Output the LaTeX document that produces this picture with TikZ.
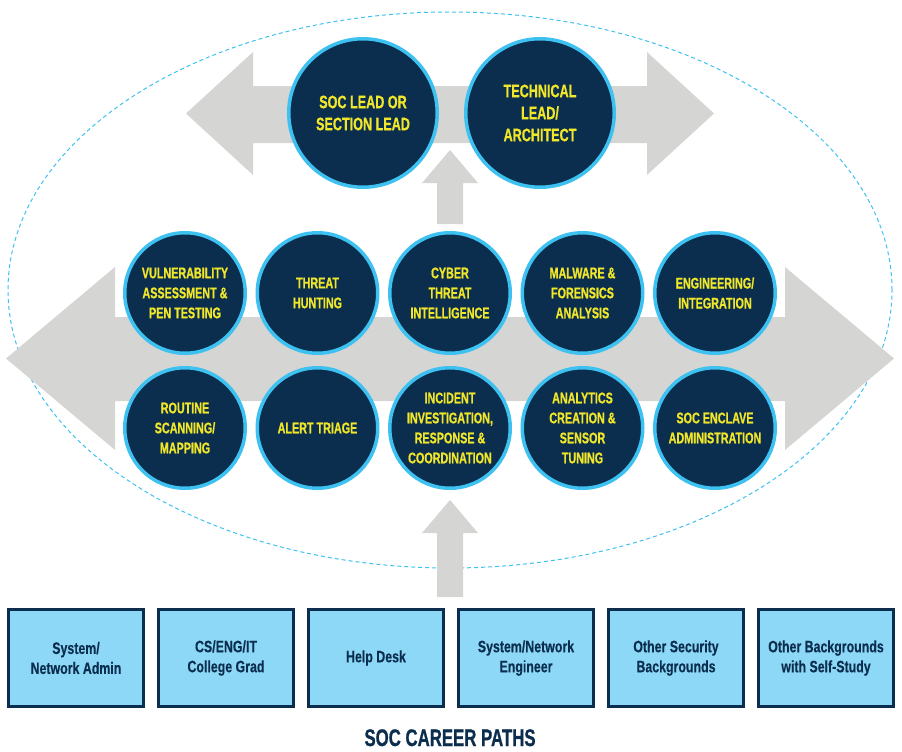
\documentclass[tikz,border=0pt]{standalone}
\usepackage{fontspec}
\setmainfont{Liberation Sans}
\newfontfamily\circfont[FakeStretch=0.7,BoldFeatures={FakeBold=0.8}]{Liberation Sans}
\newfontfamily\boxfont[FakeStretch=0.75,BoldFeatures={FakeBold=0.2}]{Liberation Sans}
\usetikzlibrary{positioning}

\definecolor{socnavy}{HTML}{0B2D4E}
\definecolor{socring}{HTML}{3DC1F0}
\definecolor{socyellow}{HTML}{F0E62A}
\definecolor{socgrey}{HTML}{D5D5D3}
\definecolor{socbox}{HTML}{8DD8F7}

\begin{document}
\begin{tikzpicture}[x=1pt,y=-1pt,
      rolecircle/.style={circle,draw=socring,line width=3.5pt,fill=socnavy,
        text=socyellow,align=center,inner sep=0pt,minimum size=120.5pt,
        font=\circfont\bfseries\fontsize{15.4}{20}\selectfont},
      leadcircle/.style={rolecircle,minimum size=148.5pt,
        font=\circfont\bfseries\fontsize{18}{22}\selectfont},
      pathbox/.style={draw=socnavy,line width=3pt,fill=socbox,align=center,
        minimum width=135pt,minimum height=97pt,text=socnavy,
        font=\boxfont\bfseries\fontsize{16.5}{20}\selectfont},
      node distance=8.5pt]
      \useasboundingbox (0,0) rectangle (902,752);

      % Dashed frame
      \draw[socring,line width=1pt,dash pattern=on 4pt off 3pt]
        (450,290) ellipse [x radius=442pt,y radius=278pt];

      % Grey arrows
      \fill[socgrey] (186,113.5) -- (253,52) -- (253,86) -- (647,86) -- (647,52)
        -- (714,113.5) -- (647,175) -- (647,143) -- (253,143) -- (253,175) -- cycle;
      \fill[socgrey] (437,224) -- (437,183) -- (422,183) -- (450,150)
        -- (478,183) -- (463,183) -- (463,224) -- cycle;
      \fill[socgrey] (6,358.5) -- (115,267) -- (115,317) -- (785,317) -- (785,267)
        -- (894,358.5) -- (785,450) -- (785,401) -- (115,401) -- (115,450) -- cycle;
      \fill[socgrey] (437,597) -- (437,533) -- (422,533) -- (450,500)
        -- (478,533) -- (463,533) -- (463,597) -- cycle;

      % Lead roles
      \node[leadcircle] at (363,113) (soclead) {SOC LEAD OR\\SECTION LEAD};
      \node[leadcircle,right=25pt of soclead] (techlead) {TECHNICAL\\LEAD/\\ARCHITECT};

      % Upper row
      \node[rolecircle] at (185,293) (vuln) {VULNERABILITY\\ASSESSMENT \&\\PEN TESTING};
      \node[rolecircle,right=of vuln]    (hunting) {THREAT\\HUNTING};
      \node[rolecircle,right=of hunting] (cti)     {CYBER\\THREAT\\INTELLIGENCE};
      \node[rolecircle,right=of cti]     (malware) {MALWARE \&\\FORENSICS\\ANALYSIS};
      \node[rolecircle,right=of malware] (eng)     {ENGINEERING/\\INTEGRATION};

      % Lower row
      \node[rolecircle,below=11pt of vuln] (scanning) {ROUTINE\\SCANNING/\\MAPPING};
      \node[rolecircle,right=of scanning]  (triage)    {ALERT TRIAGE};
      \node[rolecircle,right=of triage]    (incident)  {INCIDENT\\INVESTIGATION,\\RESPONSE \&\\COORDINATION};
      \node[rolecircle,right=of incident]  (analytics) {ANALYTICS\\CREATION \&\\SENSOR\\TUNING};
      \node[rolecircle,right=of analytics] (enclave)   {SOC ENCLAVE\\ADMINISTRATION};

      % Backgrounds
      \node[pathbox] at (76,658) (sysadmin) {System/\\Network Admin};
      \node[pathbox,right=12pt of sysadmin] (grad)     {CS/ENG/IT\\College Grad};
      \node[pathbox,right=12pt of grad]     (helpdesk) {Help Desk};
      \node[pathbox,right=12pt of helpdesk] (neteng)   {System/Network\\Engineer};
      \node[pathbox,right=12pt of neteng]   (othersec) {Other Security\\Backgrounds};
      \node[pathbox,right=12pt of othersec] (selfstudy){Other Backgrounds\\with Self-Study};

      % Title
      \node[anchor=base,text=socnavy,inner sep=0pt,
        font=\circfont\bfseries\fontsize{24}{28}\selectfont] at (450,746) (title) {SOC CAREER PATHS};
    \end{tikzpicture}
\end{document}
